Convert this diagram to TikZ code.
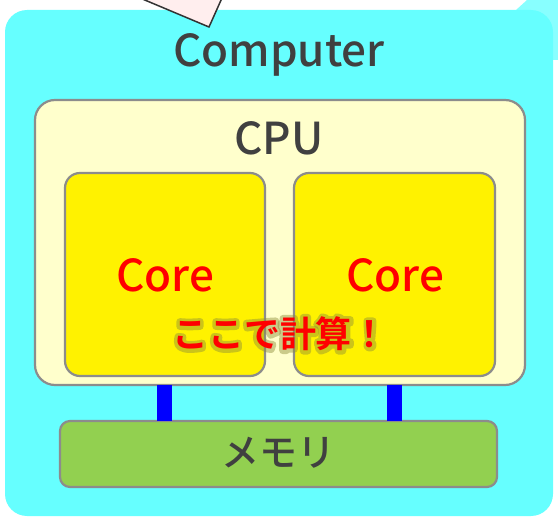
\documentclass[tikz,border=0pt]{standalone}
\usepackage{fontspec}
\setmainfont{Noto Sans CJK JP}
\newfontfamily\jpbold{Noto Sans CJK JP Bold}
\newfontfamily\jpmed{Noto Sans CJK JP Medium}
\begin{document}
\begin{tikzpicture}[x=1pt,y=-1pt,
  boxline/.style={draw=black!45,line width=2.2pt},
  cpubox/.style={boxline,fill=cpufill,rounded corners=20pt},
  corebox/.style={boxline,fill=yellow,rounded corners=15pt},
  membox/.style={boxline,fill=memfill,rounded corners=10pt},
  titletext/.style={text=darktext,font=\jpmed\fontsize{44}{50}\selectfont},
  coretext/.style={text=red,font=\jpmed\fontsize{44}{50}\selectfont},
  bus/.style={draw=blue,line width=15pt}]
\definecolor{cyanbg}{HTML}{66FFFF}
\definecolor{cyanlight}{HTML}{88FFFF}
\definecolor{cpufill}{HTML}{FFFFCC}
\definecolor{memfill}{HTML}{92D050}
\definecolor{darktext}{HTML}{404040}
\definecolor{pinkfill}{HTML}{FFEEEE}
\useasboundingbox (0,0) rectangle (558,519);
\clip (0,0) rectangle (558,519);
% shapes peeking in at the top edge
\fill[cyanlight] (516,10) -- (527,0) -- (558,0) -- (558,60) -- (540,60) -- cycle;
\fill[cyanbg,rounded corners=22pt] (5,10) rectangle (553,516);
\draw[fill=pinkfill,draw=black!80,line width=1.5pt] (140,-2) -- (209,27) -- (222,-2);
% computer
\node[titletext] (comp) at (279,55) {Computer};
% cpu
\path[cpubox] (35,100) rectangle (525,385);
\node (cpu) at (280,242.5) [minimum width=490pt,minimum height=285pt] {};
\node[titletext] (cpulabel) at (279,138) {CPU};
\path[corebox] (65,173) rectangle (265,376);
\path[corebox] (294,173) rectangle (495,376);
\node[coretext] (core1) at (165,275) {Core};
\node[coretext] (core2) at (395,275) {Core};
% memory
\path[membox] (60,421) rectangle (497,487);
\node (mem) at (278.5,454) [minimum width=437pt,minimum height=66pt] {};
\node[text=darktext,font=\jpmed\fontsize{38}{44}\selectfont] (memlabel) at (278.5,453) {メモリ};
% buses
\coordinate (b1) at (164.5,0);
\coordinate (b2) at (394.5,0);
\draw[bus] (cpu.south -| b1) -- (mem.north -| b1);
\draw[bus] (cpu.south -| b2) -- (mem.north -| b2);
% glowing caption: a wide soft stroke of the glyphs under the red text
\begin{scope}[opacity=0.45]
\node[font=\jpbold\fontsize{36}{42}\selectfont] (calcglow) at (280,334)
  {\special{pdf:code q 1 Tr 7 w 1 j 0.55 0.55 0.22 RG}ここで計算！\special{pdf:code Q}};
\end{scope}
\node[text=red,font=\jpbold\fontsize{36}{42}\selectfont] (calc) at (280,334) {ここで計算！};
\end{tikzpicture}
\end{document}
